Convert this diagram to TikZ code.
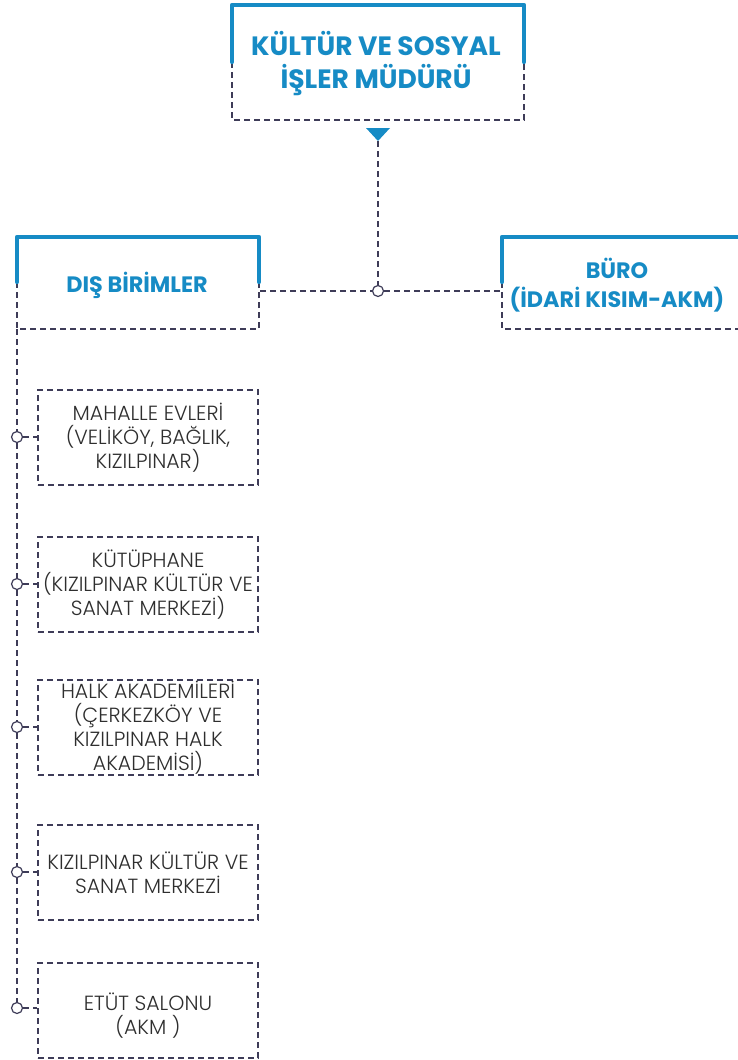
\documentclass[tikz,border=0pt]{standalone}
\usepackage{fontspec}
\setmainfont{Poppins}
\IfFontExistsTF{Poppins Light}{\newfontfamily\lightfont{Poppins Light}}{\newfontfamily\lightfont{Poppins}}
\newfontfamily\boldfont{Poppins Bold}
\definecolor{hblue}{HTML}{168BC5}
\definecolor{dline}{HTML}{3E3C58}
\definecolor{tgray}{HTML}{2E2E2E}
\tikzset{
  dline/.style={draw=dline, line width=1.2pt, dash pattern=on 6pt off 4pt},
  bframe/.style={draw=hblue, line width=4.2pt, line cap=round, line join=round},
  head/.style={text=hblue, font=\boldfont\fontsize{26.5}{33}\selectfont, align=center},
  subhead/.style={text=hblue, font=\boldfont\fontsize{22.3}{29}\selectfont, align=center},
  child/.style={text=tgray, font=\lightfont\fontsize{20.5}{24}\selectfont, align=center},
  dot/.style={circle, draw=dline, fill=white, line width=1.2pt, minimum size=11pt, inner sep=0pt},
}
\begin{document}
\begin{tikzpicture}[x=1pt,y=-1pt]
\useasboundingbox[fill=white] (0,0) rectangle (738,1060);
% top box
\draw[dline] (232,62) -- (232,120) -- (524,120) -- (524,62);
\draw[bframe] (232,62) -- (232,5) -- (524,5) -- (524,62);
\node[head] (top) at (376,64) {KÜLTÜR VE SOSYAL\\İŞLER MÜDÜRÜ};
\fill[hblue] (366,128) -- (390,128) -- (378,141) -- cycle;
\coordinate (tri) at (378,141);
% left box
\draw[dline] (17,282) -- (17,329) -- (259,329) -- (259,282);
\draw[bframe] (17,282) -- (17,237) -- (259,237) -- (259,282);
\node[subhead] (dis) at (137,285) {DIŞ BİRİMLER};
\coordinate (disR) at (260,291);
% right box
\draw[dline] (502,282) -- (502,329) -- (740,329);
\draw[bframe] (502,282) -- (502,237) -- (740,237);
\node[subhead] (buro) at (617,285) {BÜRO\\(İDARİ KISIM-AKM)};
\coordinate (buroL) at (501,291);
% junction
\node[dot] (j) at (378,291) {};
\draw[dline] (tri) -- (j);
\draw[dline] (disR) -- (j);
\draw[dline] (j) -- (buroL);
% children
\tikzset{cbox/.style={draw=dline, line width=1.2pt, dash pattern=on 6pt off 4pt, minimum width=220pt, minimum height=95pt, inner sep=0pt}}
\node[cbox] (c1) at (148,437.5) {};
\node[child] at (148,438) {MAHALLE EVLERİ\\(VELİKÖY, BAĞLIK,\\KIZILPINAR)};
\node[cbox] (c2) at (148,584.5) {};
\node[child] at (148,585) {KÜTÜPHANE\\(KIZILPINAR KÜLTÜR VE\\SANAT MERKEZİ)};
\node[cbox] (c3) at (148,727.5) {};
\node[child] at (148,728) {HALK AKADEMİLERİ\\(ÇERKEZKÖY VE\\KIZILPINAR HALK\\AKADEMİSİ)};
\node[cbox] (c4) at (148,872.5) {};
\node[child] at (148,873) {KIZILPINAR KÜLTÜR VE\\SANAT MERKEZİ};
\node[cbox] (c5) at (148,1010.5) {};
\node[child] at (148,1016) {ETÜT SALONU\\(AKM )};
\coordinate (spine) at (17,329);
\node[dot] (d1) at (17,437) {};
\node[dot] (d2) at (17,584) {};
\node[dot] (d3) at (17,727) {};
\node[dot] (d4) at (17,872) {};
\node[dot] (d5) at (17,1008) {};
\draw[dline] (spine) -- (d1);
\draw[dline] (d1) -- (d2);
\draw[dline] (d2) -- (d3);
\draw[dline] (d3) -- (d4);
\draw[dline] (d4) -- (d5);
\foreach \i in {1,...,5} \draw[dline] (d\i) -- (c\i.west |- d\i);
\end{tikzpicture}
\end{document}
